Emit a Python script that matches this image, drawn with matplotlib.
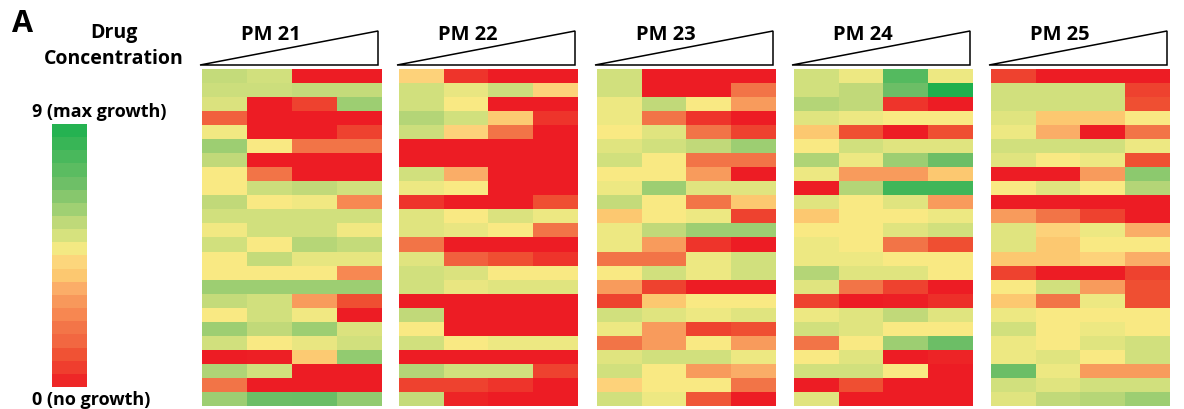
import numpy as np
import matplotlib
matplotlib.use("Agg")
import matplotlib.pyplot as plt
from matplotlib.colors import LinearSegmentedColormap, ListedColormap, BoundaryNorm
from matplotlib.patches import Polygon
import matplotlib.cm as cm

# growth scores (0 = no growth, 9 = max growth), 24 rows x 4 concentrations
panel_names = ["PM 21", "PM 22", "PM 23", "PM 24", "PM 25"]

pm21 = [
    [5.5, 5.25, 0, 0], [5.35, 5.35, 5.5, 5.5], [5.1, 0, 0.8, 6.1], [1.4, 0, 0, 0],
    [4.75, 0, 0, 0.8], [6.1, 4.6, 2, 2], [5.6, 0, 0, 0], [4.6, 2, 0, 0],
    [4.6, 5.35, 5.6, 5.25], [5.6, 4.6, 4.75, 2.5], [5.25, 5.25, 5.25, 5.25],
    [4.75, 5.25, 5.25, 4.75], [5.25, 4.6, 5.75, 5.5], [4.6, 5.5, 4.95, 4.95],
    [4.6, 4.6, 4.6, 2.5], [6.1, 6.1, 6.1, 6.1], [5.5, 5.25, 3, 1.1],
    [4.6, 5.25, 4.75, 0], [6.1, 5.6, 6.1, 5.1], [5.25, 4.6, 4.9, 5.25],
    [0, 0.1, 3.9, 6.3], [5.85, 5.25, 0, 0], [2, 0, 0, 0], [6.1, 7, 7.05, 6.3],
]
pm22 = [
    [4.2, 0.5, 0, 0], [5.25, 4.9, 5.35, 4.2], [5.25, 4.6, 0, 0], [5.8, 5.25, 3.9, 0.5],
    [5.35, 4.2, 2, 0], [0, 0, 0, 0], [0, 0, 0, 0], [5.25, 3.4, 0, 0],
    [4.85, 4.6, 0, 0], [0.5, 0, 0, 1.1], [5.05, 4.6, 5.1, 4.85], [5.05, 4.9, 4.6, 2],
    [2, 0, 0, 0], [5.05, 1.4, 1.1, 0.5], [5.25, 5.1, 4.6, 4.6], [5.25, 4.9, 5.05, 5.05],
    [0, 0, 0, 0], [5.6, 0, 0, 0], [4.6, 0, 0, 0], [5.25, 4.6, 4.85, 4.85],
    [0, 0, 0, 0], [5.8, 5.25, 5.25, 0.8], [0.8, 0.8, 0.5, 0], [5.5, 0.2, 0, 0],
]
pm23 = [
    [5.25, 0, 0, 0], [5.25, 0, 0, 2], [4.85, 5.6, 4.6, 3], [4.85, 2, 0.5, 0],
    [4.6, 5.05, 2, 0.8], [5.05, 5.25, 5.6, 6.1], [5.25, 4.6, 2, 2], [4.6, 4.6, 3, 0],
    [4.85, 6.1, 5.05, 5.05], [5.5, 4.6, 2, 3.8], [3.8, 4.6, 4.85, 0.8],
    [4.85, 5.6, 6.1, 6.1], [4.85, 3, 0.5, 0], [2, 2, 4.85, 5.25],
    [4.6, 5.25, 4.85, 5.25], [3, 0.8, 0, 0], [0.8, 3.8, 4.6, 4.6],
    [5.25, 5.05, 4.85, 5.05], [4.85, 3, 0.8, 1.1], [2, 3, 4.6, 3],
    [5.05, 5.25, 5.25, 4.85], [5.25, 4.6, 3, 3.4], [4.2, 4.6, 4.6, 2], [5.25, 4.85, 1.2, 0],
]
pm24 = [
    [5.25, 4.85, 7.6, 4.85], [5.25, 5.6, 7, 9], [5.8, 5.6, 0.5, 0], [5.05, 4.85, 4.6, 4.6],
    [3.8, 1.1, 0, 1.1], [4.6, 5.25, 5.05, 5.05], [5.85, 4.85, 6.1, 7], [4.85, 3, 3, 3.8],
    [0, 5.8, 8.1, 8.1], [5.05, 4.6, 5.05, 3], [3.8, 4.6, 4.6, 4.85], [4.6, 4.6, 5.05, 5.25],
    [4.85, 4.6, 2, 1.1], [4.85, 4.85, 4.6, 4.6], [5.8, 5.05, 5.05, 4.6], [5.05, 2, 0.8, 0],
    [0.8, 0, 0.1, 0.4], [4.85, 5.05, 5.6, 5.05], [5.25, 5.05, 4.6, 4.6], [2, 4.6, 6.1, 7],
    [4.6, 5.05, 0, 0.2], [5.25, 5.25, 4.6, 0], [0, 1.1, 0, 0], [5.05, 0, 0, 0],
]
pm25 = [
    [0.8, 0, 0, 0], [5.25, 5.25, 5.25, 0.8], [5.25, 5.25, 5.25, 1.1], [5.05, 3.8, 3.8, 4.6],
    [4.85, 3.4, 0, 2], [5.25, 5.25, 5.25, 4.85], [5.05, 4.6, 4.85, 1.1], [0, 0, 3, 6.4],
    [4.6, 5.05, 4.6, 5.8], [0, 0, 0, 0], [3, 2, 0.8, 0], [5.05, 4.2, 4.85, 3.4],
    [5.05, 3.8, 4.6, 4.6], [3.8, 3.8, 4.2, 3.4], [0.8, 0, 0, 0.8], [4.6, 5.25, 3, 1.1],
    [3.8, 2, 4.85, 1.1], [4.85, 4.6, 4.6, 4.6], [5.25, 4.6, 4.85, 4.6], [4.85, 4.6, 5.05, 5.25],
    [4.85, 5.05, 4.6, 5.25], [7, 4.85, 3, 3], [5.25, 5.05, 5.25, 5.25], [5.05, 5.6, 5.75, 6.1],
]
panels = [pm21, pm22, pm23, pm24, pm25]

# red -> yellow -> green scale
scale_vals = [0, 0.8, 1.1, 1.4, 2, 2.5, 3, 3.4, 3.8, 4.2, 4.6, 4.85, 5.05, 5.25,
              5.5, 5.6, 6.1, 7, 9]
scale_cols = ["#ED1C24", "#EF4430", "#F05033", "#F2623F", "#F37548", "#F78852",
              "#F89B5C", "#FBAE68", "#FCC870", "#FDD27A", "#F9EA84", "#EDE882",
              "#E0E47F", "#D2E17E", "#C5DC7B", "#C2DA7A", "#9ECF73", "#6DBF67",
              "#1DB04E"]
cmap = LinearSegmentedColormap.from_list(
    "growth", list(zip([v / 9 for v in scale_vals], scale_cols)))

W, H = 1184, 410
fig = plt.figure(figsize=(W / 100, H / 100), dpi=100)


def px_axes(x0, y0, x1, y1):
    # pixel box (top-left origin) -> figure axes
    return fig.add_axes([x0 / W, 1 - y1 / H, (x1 - x0) / W, (y1 - y0) / H])


lefts = [202, 399, 597, 794, 991]
pw = 179
font = "Open Sans"

for L, name, data in zip(lefts, panel_names, panels):
    ax = px_axes(L, 70, L + pw, 407)
    ax.imshow(np.array(data), cmap=cmap, vmin=0, vmax=9, aspect="auto",
              interpolation="nearest")
    ax.axis("off")
    # concentration wedge
    tri = Polygon([((L - 2) / W, 1 - 66 / H), ((L + 176) / W, 1 - 32 / H),
                   ((L + 176) / W, 1 - 66 / H)], closed=True, fill=False,
                  edgecolor="black", lw=1.1, transform=fig.transFigure)
    fig.patches.append(tri)
    fig.text((L + 69) / W, 1 - 35 / H, name, ha="center", va="center",
             fontsize=14.5, fontweight="bold", family=font)

# colour legend, 20 steps
bounds = np.linspace(0, 9, 21)
mids = (bounds[:-1] + bounds[1:]) / 2
step_cmap = ListedColormap(cmap(mids / 9))
cax = px_axes(52, 125, 87, 388)
sm = cm.ScalarMappable(norm=BoundaryNorm(bounds, 20), cmap=step_cmap)
cb = fig.colorbar(sm, cax=cax, ticks=[])
cb.outline.set_visible(False)
cax.minorticks_off()
cax.tick_params(which="both", length=0, labelright=False)

fig.text(12 / W, 1 - 24 / H, "A", ha="left", va="center", fontsize=22,
         fontweight="bold", family=font)
fig.text(114 / W, 1 - 33 / H, "Drug", ha="center", va="center", fontsize=14,
         fontweight="bold", family=font)
fig.text(114 / W, 1 - 59 / H, "Concentration", ha="center", va="center",
         fontsize=14, fontweight="bold", family=font)
fig.text(32 / W, 1 - 112 / H, "9 (max growth)", ha="left", va="center",
         fontsize=13, fontweight="bold", family=font)
fig.text(32 / W, 1 - 400 / H, "0 (no growth)", ha="left", va="center",
         fontsize=13, fontweight="bold", family=font)

fig.savefig("out.png", dpi=100)
